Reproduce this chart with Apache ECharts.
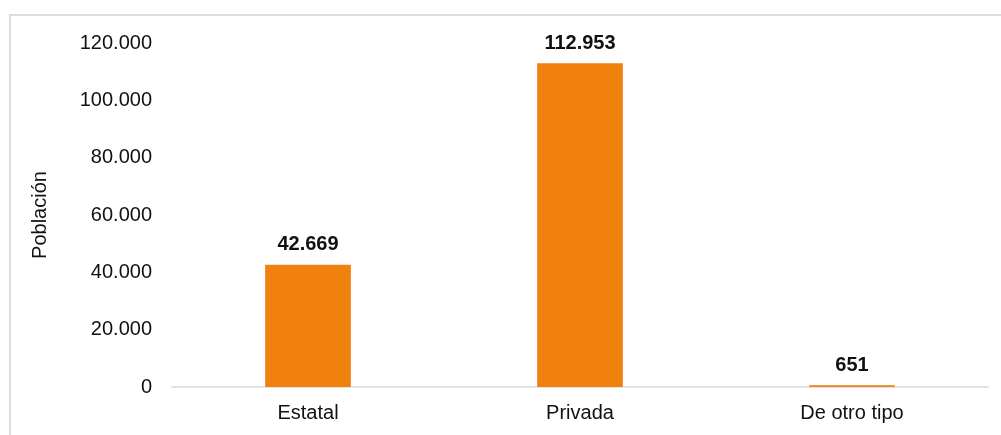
<!DOCTYPE html>
<html>
<head>
<meta charset="utf-8">
<script src="https://cdn.jsdelivr.net/npm/echarts@6/dist/echarts.min.js"></script>
<style>
html,body{margin:0;padding:0;background:#fff;}
#chart{width:1001px;height:435px;}
</style>
</head>
<body>
<div id="chart"></div>
<script>
const categories = ['Estatal', 'Privada', 'De otro tipo'];
const values = [42669, 112953, 651];
const yTicks = [0, 20000, 40000, 60000, 80000, 100000, 120000];
const yAxisName = 'Población';

function fmt(v) {
  return String(v).replace(/\B(?=(\d{3})+(?!\d))/g, '.');
}

const FONT = '"Liberation Sans", Arial, Helvetica, sans-serif';
const chart = echarts.init(document.getElementById('chart'));
chart.setOption({
  animation: false,
  backgroundColor: '#fff',
  graphic: [{
    type: 'rect',
    shape: { x: 10, y: 15, width: 1000, height: 500 },
    style: { fill: 'none', stroke: '#dcdcdc', lineWidth: 2 },
    silent: true
  }],
  grid: { left: 172, right: 13, top: 43, bottom: 48 },
  xAxis: {
    type: 'category',
    data: categories,
    axisLine: { lineStyle: { color: '#d9d9d9', width: 1.5 } },
    axisTick: { show: false },
    axisLabel: { color: '#111', fontSize: 20, fontFamily: FONT, margin: 16 }
  },
  yAxis: {
    type: 'value',
    min: yTicks[0],
    max: yTicks[yTicks.length - 1],
    interval: yTicks[1] - yTicks[0],
    name: yAxisName,
    nameLocation: 'middle',
    nameGap: 122,
    nameTextStyle: { color: '#111', fontSize: 20, fontFamily: FONT },
    axisLine: { show: false },
    axisTick: { show: false },
    splitLine: { show: false },
    axisLabel: { color: '#111', fontSize: 20, fontFamily: FONT, margin: 20, formatter: fmt }
  },
  series: [{
    type: 'bar',
    data: values,
    barWidth: '31.5%',
    itemStyle: { color: '#F0810F' },
    label: {
      show: true,
      position: 'top',
      distance: 10,
      color: '#111',
      fontSize: 20,
      fontWeight: 'bold',
      fontFamily: FONT,
      formatter: p => fmt(p.value)
    }
  }]
});
</script>
</body>
</html>
